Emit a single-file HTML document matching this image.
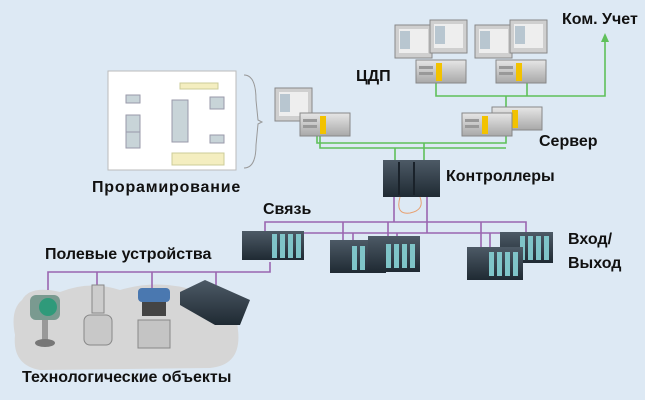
<!DOCTYPE html>
<html><head><meta charset="utf-8"><style>
body{margin:0;width:645px;height:400px;overflow:hidden;background:#dde9f4;font-family:"Liberation Sans",sans-serif}
.t{position:absolute;font-weight:bold;color:#111;font-size:16px;white-space:nowrap;line-height:1}
</style></head><body>
<svg width="645" height="400" style="position:absolute;left:0;top:0">
<defs>
<linearGradient id="mod" x1="0" y1="0" x2="0" y2="1"><stop offset="0" stop-color="#4d5a66"/><stop offset="1" stop-color="#1f2a33"/></linearGradient>
<linearGradient id="case" x1="0" y1="0" x2="0" y2="1"><stop offset="0" stop-color="#e6e6e6"/><stop offset="1" stop-color="#a8a8a8"/></linearGradient>
<g id="cards"><rect width="5" height="24" fill="#7fc4c8"/><rect x="8" width="5" height="24" fill="#7fc4c8"/><rect x="16" width="5" height="24" fill="#7fc4c8"/><rect x="24" width="5" height="24" fill="#7fc4c8"/></g>
<g id="pc"><rect x="0" y="0" width="37" height="33" fill="#cfcfcf" stroke="#888"/><rect x="4" y="4" width="29" height="24" fill="#eee"/><rect x="5" y="6" width="10" height="18" fill="#b8c6d0"/></g>
<g id="box"><rect width="50" height="23" fill="url(#case)" stroke="#888"/><rect x="20" y="3" width="6" height="18" fill="#f2c200"/><rect x="3" y="6" width="14" height="3" fill="#999"/><rect x="3" y="12" width="14" height="3" fill="#999"/></g>
</defs>
<path d="M22 300 Q30 285 60 292 Q90 280 120 290 Q160 278 200 292 Q235 295 238 330 Q242 365 210 368 L40 370 Q12 365 15 335 Q10 310 22 300Z" fill="#d6d6d6"/>
<g stroke="#5fc05a" stroke-width="1.6" fill="none">
<path d="M436 82V96H605V40M527 82V96M506 96V110"/>
<path d="M317 133V143H506V130M320 133V148H506M395 148V160M424 143V160"/>
</g>
<polygon points="605,33 601,42 609,42" fill="#5fc05a"/>
<g stroke="#9a66b0" stroke-width="1.6" fill="none">
<path d="M265 231V222H526V232M303 233H503M394 197V222M427 197V233M343 222V241M353 233V241M388 222V236M397 233V236M481 222V248M490 233V248"/>
<path d="M48 290V272H270V262M97 272V288M152 272V288M216 272V285"/>
</g>
<rect x="383" y="160" width="57" height="37" fill="url(#mod)"/>
<rect x="398" y="162" width="2" height="33" fill="#1a222a"/><rect x="413" y="162" width="2" height="33" fill="#1a222a"/>
<path d="M400 197Q395 215 410 213Q425 210 420 197" stroke="#e8a070" fill="none"/>
<rect x="242" y="231" width="62" height="29" fill="url(#mod)"/><use href="#cards" x="272" y="234"/>
<rect x="330" y="240" width="56" height="33" fill="url(#mod)"/><use href="#cards" x="352" y="246"/>
<rect x="368" y="236" width="52" height="36" fill="url(#mod)"/><use href="#cards" x="386" y="244"/>
<rect x="500" y="232" width="53" height="31" fill="url(#mod)"/><use href="#cards" x="520" y="236"/>
<rect x="467" y="247" width="56" height="33" fill="url(#mod)"/><use href="#cards" x="489" y="252"/>
<path d="M180 292L205 280L250 300L240 325L215 325L180 305Z" fill="url(#mod)"/>
<rect x="30" y="295" width="30" height="25" rx="6" fill="#7a9a90"/><circle cx="48" cy="307" r="9" fill="#2f9a7a"/><rect x="42" y="320" width="6" height="20" fill="#999"/><ellipse cx="45" cy="343" rx="10" ry="4" fill="#777"/>
<rect x="92" y="285" width="12" height="28" fill="#ccc" stroke="#888"/><rect x="84" y="315" width="28" height="30" rx="6" fill="#c8c8c8" stroke="#888"/>
<rect x="138" y="288" width="32" height="14" rx="4" fill="#4a78b0"/><rect x="142" y="302" width="24" height="14" fill="#444"/><rect x="138" y="320" width="32" height="28" fill="#c4c4c4" stroke="#888"/>
<rect x="108" y="71" width="128" height="99" fill="#fff" stroke="#bbb"/>
<g fill="#c8d4d8" stroke="#99a"><rect x="126" y="95" width="14" height="8"/><rect x="126" y="115" width="14" height="20"/><rect x="126" y="132" width="14" height="16"/><rect x="172" y="100" width="16" height="42"/><rect x="210" y="97" width="14" height="12"/><rect x="210" y="135" width="14" height="8"/></g>
<rect x="180" y="83" width="38" height="6" fill="#f4eec0" stroke="#cc9"/><rect x="172" y="153" width="52" height="12" fill="#f4eec0" stroke="#cc9"/>
<path d="M244 75Q256 75 256 100L258 120L262 122L258 124L256 145Q256 168 244 168" stroke="#999" fill="none"/>
<use href="#pc" x="275" y="88"/><use href="#box" x="300" y="113"/>
<use href="#box" x="492" y="107"/><use href="#box" x="462" y="113"/>
<use href="#pc" x="395" y="25"/><use href="#pc" x="430" y="20"/><use href="#box" x="416" y="60"/>
<use href="#pc" x="475" y="25"/><use href="#pc" x="510" y="20"/><use href="#box" x="496" y="60"/>
</svg>
<div class="t" style="left:562px;top:12px">Ком. Учет</div>
<div class="t" style="left:356px;top:69px">ЦДП</div>
<div class="t" style="left:539px;top:134px">Сервер</div>
<div class="t" style="left:446px;top:169px">Контроллеры</div>
<div class="t" style="left:92px;top:180px;letter-spacing:0.8px">Прорамирование</div>
<div class="t" style="left:263px;top:202px">Связь</div>
<div class="t" style="left:568px;top:232px">Вход/</div>
<div class="t" style="left:568px;top:256px">Выход</div>
<div class="t" style="left:45px;top:247px">Полевые устройства</div>
<div class="t" style="left:22px;top:370px">Технологические объекты</div>
</body></html>
